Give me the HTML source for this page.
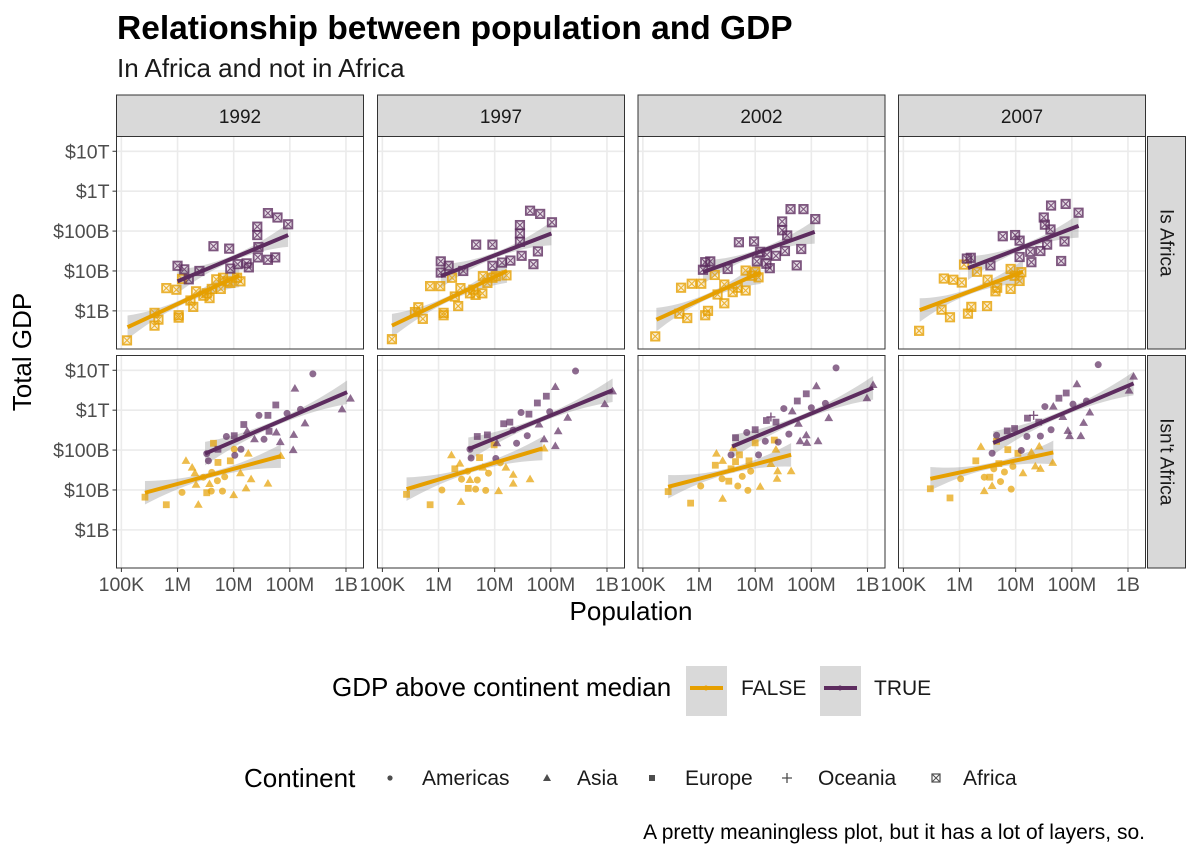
<!DOCTYPE html>
<html><head><meta charset="utf-8">
<style>
body{margin:0;background:#fff;}
svg text{font-family:"Liberation Sans",Arial,sans-serif;}
</style></head>
<body>
<svg id="chart" width="1200" height="857" viewBox="0 0 1200 857" xmlns="http://www.w3.org/2000/svg">
<text x="117" y="39" font-size="33.5" font-weight="bold" fill="#000">Relationship between population and GDP</text>
<text x="117" y="77" font-size="26" fill="#1a1a1a">In Africa and not in Africa</text>
<text x="631" y="620" font-size="26" text-anchor="middle" fill="#000">Population</text>
<text transform="translate(31,352) rotate(-90)" font-size="26" text-anchor="middle" fill="#000">Total GDP</text>
<g id="panels"></g>
<g>
<text x="332" y="696" font-size="26" fill="#000">GDP above continent median</text>
<rect x="686" y="666" width="41" height="50" fill="#d9d9d9"/>
<line x1="690" y1="688" x2="723" y2="688" stroke="#E69F00" stroke-width="4"/>
<circle cx="706" cy="688" r="2.5" fill="#E69F00"/>
<text x="741" y="695" font-size="21" fill="#1a1a1a">FALSE</text>
<rect x="820" y="666" width="41" height="50" fill="#d9d9d9"/>
<line x1="824" y1="688" x2="857" y2="688" stroke="#5D2C5F" stroke-width="4"/>
<circle cx="840" cy="688" r="2.5" fill="#5D2C5F"/>
<text x="874" y="695" font-size="21" fill="#1a1a1a">TRUE</text>
</g>
<g>
<text x="244" y="787" font-size="26" fill="#000">Continent</text>
<circle cx="390" cy="778" r="2.6" fill="#4d4d4d"/>
<text x="422" y="785" font-size="21" fill="#1a1a1a">Americas</text>
<polygon points="543,781 551,781 547,774" fill="#4d4d4d"/>
<text x="577" y="785" font-size="21" fill="#1a1a1a">Asia</text>
<rect x="649" y="775" width="6" height="6" fill="#4d4d4d"/>
<text x="685" y="785" font-size="21" fill="#1a1a1a">Europe</text>
<path d="M782 778 H792 M787 773 V783" stroke="#4d4d4d" stroke-width="1.3"/>
<text x="818" y="785" font-size="21" fill="#1a1a1a">Oceania</text>
<g><rect x="932" y="774" width="8" height="8" fill="none" stroke="#4d4d4d" stroke-width="1.2"/><path d="M932 774 L940 782 M940 774 L932 782" stroke="#4d4d4d" stroke-width="1"/></g>
<text x="963" y="785" font-size="21" fill="#1a1a1a">Africa</text>
</g>
<text x="1145" y="839" font-size="21" text-anchor="end" fill="#000">A pretty meaningless plot, but it has a lot of layers, so.</text>
</svg>
<script>
// ---- data (log10 population, log10 GDP) ----
const years = ["1992","1997","2002","2007"];
const rowLabels = ["Is Africa","Isn't Africa"];
const xTicks = [5,6,7,8,9];
const xTickLabels = ["100K","1M","10M","100M","1B"];
const yTicks = [9,10,11,12,13];
const yTickLabels = ["$1B","$10B","$100B","$1T","$10T"];

const af1992F = [[5.10,8.26],[5.59,8.95],[5.59,8.63],[5.66,8.78],[5.80,9.57],[5.98,9.53],[6.02,8.89],[6.02,8.83],[6.08,9.80],[6.23,9.26],[6.28,9.10],[6.33,9.49],[6.46,9.38],[6.52,9.44],[6.57,9.32],[6.61,9.55],[6.69,9.79],[6.77,9.55],[6.81,9.83],[6.89,9.74],[6.94,9.70],[7.06,9.83],[7.12,9.74]];
const af1992T = [[6.0,10.13],[6.12,10.04],[6.20,9.79],[6.39,10.0],[6.64,10.62],[6.92,10.56],[6.94,10.06],[7.07,10.17],[7.23,10.19],[7.27,10.09],[7.42,11.11],[7.42,10.90],[7.44,10.60],[7.43,10.34],[7.61,11.45],[7.61,10.28],[7.74,10.34],[7.78,11.34],[7.97,11.17]];
const af1997F = [[5.17,8.29],[5.64,9.09],[5.58,8.97],[5.72,8.80],[5.85,9.62],[6.03,9.62],[6.09,8.95],[6.09,8.89],[6.24,9.83],[6.29,9.36],[6.35,9.12],[6.39,9.57],[6.56,9.44],[6.62,9.53],[6.66,9.40],[6.78,9.44],[6.79,9.87],[6.87,9.70],[6.96,9.83],[7.02,9.87],[7.21,9.89]];
const af1997T = [[6.04,10.24],[6.04,9.96],[6.18,10.13],[6.44,10.0],[6.67,10.66],[6.96,10.66],[6.96,10.13],[7.13,10.21],[7.28,10.26],[7.45,11.15],[7.45,10.94],[7.45,10.73],[7.48,10.38],[7.63,11.51],[7.69,10.17],[7.77,10.49],[7.81,11.43],[8.02,11.22]];
const af2002F = [[5.22,8.36],[5.65,8.93],[5.79,8.82],[5.68,9.58],[5.87,9.68],[6.04,9.68],[6.11,8.89],[6.16,9.0],[6.28,9.90],[6.33,9.41],[6.45,9.19],[6.45,9.66],[6.60,9.47],[6.69,9.58],[6.83,9.51],[6.83,10.01],[6.94,9.88],[7.00,9.98],[7.06,9.84]];
const af2002T = [[6.07,10.03],[6.11,10.22],[6.20,10.24],[6.51,10.05],[6.71,10.72],[6.98,10.74],[7.03,10.24],[7.09,10.48],[7.20,10.18],[7.26,10.07],[7.21,10.41],[7.37,10.38],[7.48,11.24],[7.48,11.02],[7.53,10.50],[7.57,10.89],[7.63,11.55],[7.74,10.14],[7.82,10.55],[7.86,11.55],[8.07,11.30]];
const af2007F = [[5.28,8.50],[5.68,9.03],[5.83,8.84],[5.72,9.81],[5.89,9.78],[6.04,9.71],[6.08,10.16],[6.15,8.93],[6.21,9.10],[6.31,9.98],[6.49,9.12],[6.50,9.78],[6.64,9.49],[6.67,9.58],[6.91,9.55],[6.91,10.05],[6.98,9.88],[7.07,9.75],[7.10,9.97]];
const af2007T = [[6.13,10.31],[6.20,10.33],[6.55,10.14],[6.77,10.87],[6.99,10.90],[7.07,10.76],[7.07,10.35],[7.26,10.48],[7.28,10.22],[7.44,10.50],[7.50,11.34],[7.52,11.16],[7.56,10.66],[7.62,11.04],[7.63,11.64],[7.81,10.25],[7.87,10.74],[7.89,11.68],[8.12,11.46]];

// non-Africa: [logPop, logGdp, shape] shape: c=Americas t=Asia s=Europe p=Oceania
const na1992F = [[5.42,9.82,"s"],[5.80,9.63,"s"],[6.08,9.94,"c"],[6.15,10.73,"t"],[6.26,10.56,"t"],[6.31,10.42,"t"],[6.37,9.63,"t"],[6.33,10.13,"t"],[6.46,10.32,"c"],[6.52,9.93,"s"],[6.57,10.15,"t"],[6.60,9.97,"c"],[6.61,10.44,"c"],[6.64,11.17,"s"],[6.72,10.69,"s"],[6.71,10.23,"c"],[6.80,9.97,"c"],[6.84,10.33,"c"],[6.94,10.73,"s"],[7.00,9.87,"t"],[7.01,11.02,"c"],[7.12,10.42,"t"],[7.22,10.04,"t"],[7.26,10.91,"t"],[7.31,10.27,"t"],[7.61,10.16,"t"],[7.84,10.85,"t"]];
const na1992T = [[6.55,10.73,"c"],[6.52,10.91,"c"],[6.72,11.02,"s"],[6.87,11.34,"c"],[7.01,11.36,"s"],[7.02,10.87,"c"],[7.13,11.02,"c"],[7.18,11.64,"s"],[7.24,11.47,"t"],[7.37,11.27,"t"],[7.45,11.87,"c"],[7.54,11.27,"c"],[7.61,11.87,"s"],[7.63,11.47,"s"],[7.75,12.13,"s"],[7.76,11.44,"t"],[7.83,11.20,"t"],[7.95,11.92,"c"],[8.09,12.54,"t"],[8.07,11.38,"t"],[8.19,12.02,"c"],[8.06,11.00,"t"],[8.27,11.67,"t"],[8.41,12.91,"c"],[8.93,12.02,"t"],[9.08,12.29,"t"]];
const na1997F = [[5.43,9.89,"s"],[5.85,9.63,"s"],[6.06,10.0,"c"],[6.23,10.87,"t"],[6.29,10.53,"s"],[6.38,10.66,"t"],[6.40,9.70,"t"],[6.41,10.27,"c"],[6.52,10.47,"c"],[6.53,10.04,"s"],[6.56,10.25,"t"],[6.66,10.02,"c"],[6.69,10.25,"c"],[6.73,10.81,"s"],[6.79,10.56,"t"],[6.84,9.99,"c"],[6.89,10.42,"c"],[6.99,11.13,"s"],[7.07,9.97,"t"],[7.10,10.68,"c"],[7.20,10.56,"t"],[7.33,10.16,"t"],[7.33,10.38,"t"],[7.63,10.27,"t"],[7.88,11.04,"t"]];
const na1997T = [[6.56,11.02,"c"],[6.58,10.80,"c"],[6.69,11.34,"s"],[6.87,11.38,"s"],[7.02,10.79,"c"],[7.04,11.17,"t"],[7.16,11.66,"s"],[7.27,11.70,"s"],[7.33,11.50,"c"],[7.39,11.17,"c"],[7.47,11.94,"c"],[7.58,11.36,"c"],[7.61,11.90,"s"],[7.76,12.18,"s"],[7.79,11.64,"t"],[7.88,11.27,"t"],[7.92,12.35,"s"],[7.98,11.96,"c"],[8.08,12.58,"t"],[8.08,11.10,"t"],[8.13,11.47,"t"],[8.30,11.81,"t"],[8.44,12.98,"c"],[8.96,12.15,"t"],[9.10,12.47,"t"]];
const na2002F = [[5.45,9.96,"s"],[5.85,9.67,"s"],[6.03,10.10,"c"],[6.31,10.91,"t"],[6.29,10.62,"s"],[6.42,9.78,"t"],[6.42,10.73,"t"],[6.41,10.28,"c"],[6.53,10.22,"s"],[6.57,10.53,"s"],[6.61,11.05,"t"],[6.65,10.71,"s"],[6.69,10.10,"c"],[6.72,10.88,"s"],[6.77,10.34,"c"],[6.87,9.99,"c"],[6.89,10.73,"s"],[6.92,10.47,"c"],[7.0,11.18,"s"],[7.09,10.08,"t"],[7.28,10.65,"t"],[7.34,11.25,"s"],[7.37,11.01,"t"],[7.40,10.47,"t"],[7.39,10.28,"t"],[7.64,10.47,"t"]];
const na2002T = [[6.57,10.88,"c"],[6.65,11.31,"s"],[6.85,11.44,"c"],[7.00,11.51,"s"],[7.06,10.88,"c"],[7.18,11.22,"c"],[7.20,11.74,"s"],[7.28,11.83,"p"],[7.37,11.70,"s"],[7.41,11.20,"c"],[7.51,12.04,"c"],[7.60,11.40,"c"],[7.66,11.97,"t"],[7.75,12.23,"s"],[7.77,11.66,"t"],[7.80,11.22,"t"],[7.91,12.41,"s"],[7.91,11.37,"t"],[7.92,11.18,"t"],[8.00,12.06,"c"],[8.09,12.60,"t"],[8.12,11.22,"t"],[8.25,12.17,"c"],[8.31,11.80,"t"],[8.44,13.06,"c"],[8.99,12.30,"t"],[9.10,12.63,"t"]];
const na2007F = [[5.48,10.03,"s"],[5.83,9.80,"s"],[6.02,10.28,"c"],[6.38,11.08,"t"],[6.29,10.73,"s"],[6.44,9.97,"t"],[6.44,10.32,"c"],[6.54,10.32,"s"],[6.58,10.10,"t"],[6.61,10.53,"c"],[6.66,11.22,"s"],[6.70,10.66,"s"],[6.73,10.21,"c"],[6.80,10.45,"c"],[6.86,11.01,"s"],[6.92,10.02,"c"],[6.95,10.59,"c"],[7.04,10.92,"s"],[7.13,10.42,"t"],[7.28,10.94,"t"],[7.35,10.59,"t"],[7.42,11.09,"t"],[7.44,10.53,"t"],[7.66,10.68,"t"]];
const na2007T = [[6.58,10.92,"c"],[6.66,11.37,"c"],[6.85,11.48,"s"],[6.98,11.54,"s"],[7.10,10.99,"c"],[7.20,11.34,"c"],[7.21,11.80,"s"],[7.32,11.87,"p"],[7.41,11.70,"s"],[7.44,11.35,"c"],[7.52,12.09,"c"],[7.63,11.51,"c"],[7.67,12.09,"t"],[7.77,12.30,"s"],[7.84,11.83,"t"],[7.90,12.43,"s"],[7.93,11.48,"t"],[7.96,11.35,"t"],[8.02,12.15,"c"],[8.09,12.65,"t"],[8.16,11.35,"t"],[8.21,11.68,"t"],[8.26,12.23,"c"],[8.32,11.94,"t"],[8.47,13.14,"c"],[9.02,12.49,"t"],[9.10,12.84,"t"]];

// fitted lines: [[x1,y1],[x2,y2]]
const fitAf1992F = [[5.11,8.59],[7.10,9.89]], fitAf1992T = [[6.0,9.74],[7.97,10.90]];
const fitAf1997F = [[5.17,8.63],[7.22,10.0]], fitAf1997T = [[6.04,9.87],[8.01,10.94]];
const fitAf2002F = [[5.24,8.78],[7.10,9.97]], fitAf2002T = [[6.07,9.97],[8.06,10.98]];
const fitAf2007F = [[5.29,9.02],[7.13,9.98]], fitAf2007T = [[6.15,10.07],[8.12,11.13]];
const fitNa1992F = [[5.42,9.93],[7.84,10.85]], fitNa1992T = [[6.49,10.91],[9.02,12.45]];
const fitNa1997F = [[5.43,10.02],[7.85,11.04]], fitNa1997T = [[6.53,11.02],[9.10,12.50]];
const fitNa2002F = [[5.45,10.08],[7.64,10.88]], fitNa2002T = [[6.59,11.09],[9.10,12.56]];
const fitNa2007F = [[5.48,10.28],[7.67,10.94]], fitNa2007T = [[6.60,11.18],[9.10,12.67]];

const panelData = [
 [[af1992F,af1992T,fitAf1992F,fitAf1992T],[af1997F,af1997T,fitAf1997F,fitAf1997T],[af2002F,af2002T,fitAf2002F,fitAf2002T],[af2007F,af2007T,fitAf2007F,fitAf2007T]],
 [[na1992F,na1992T,fitNa1992F,fitNa1992T],[na1997F,na1997T,fitNa1997F,fitNa1997T],[na2002F,na2002T,fitNa2002F,fitNa2002T],[na2007F,na2007T,fitNa2007F,fitNa2007T]]
];

// ---- layout ----
const NS = "http://www.w3.org/2000/svg";
const colX = [116.5, 377.5, 638, 898.5], PW = 247;
const rowY = [136.5, 355.5], PH = 212.5;
const XMIN = 4.913, XSCALE = 56.15, YMAX = 13.37, YSCALE = 39.9;
const ORANGE = "#E69F00", PURPLE = "#5D2C5F";
function sx(c, v){ return colX[c] + (v - XMIN) * XSCALE; }
function sy(r, v){ return rowY[r] + (YMAX - v) * YSCALE; }
function mk(tag, attrs, parent){ const e = document.createElementNS(NS, tag); for (const k in attrs) e.setAttribute(k, attrs[k]); parent.appendChild(e); return e; }

const root = document.getElementById("panels");

years.forEach((yr, c) => {
  const s = mk("rect", {x: colX[c], y: 95, width: PW, height: rowY[0]-95, fill: "#d9d9d9", stroke: "#333", "stroke-width": 1}, root);
  
  
  const t = mk("text", {x: colX[c] + PW/2, y: 123, "text-anchor": "middle", "font-size": 19, fill: "#1a1a1a"}, root);
  t.textContent = yr;
  
  
});
rowLabels.forEach((lab, r) => {
  const s = mk("rect", {x: colX[3] + PW + 2, y: rowY[r], width: 38, height: PH, fill: "#d9d9d9", stroke: "#333", "stroke-width": 1}, root);
  
  
  const cx = colX[3] + PW + 21, cy = rowY[r] + PH/2;
  const t = mk("text", {transform: `translate(${cx},${cy}) rotate(90)`, "text-anchor": "middle", "font-size": 19, fill: "#1a1a1a", dy: 6}, root);
  t.textContent = lab;
  
  
});

function drawPoint(g, c, r, p, col, shape){
  const x = sx(c, p[0]), y = sy(r, p[1]);
  let e;
  if (shape === "a") {
    e = mk("g", {opacity: 0.8}, g);
    mk("rect", {x: x-4.2, y: y-4.2, width: 8.4, height: 8.4, fill: col, "fill-opacity": 0.2, stroke: col, "stroke-width": 1.8}, e);
    mk("path", {d: `M${x-4} ${y-4} L${x+4} ${y+4} M${x+4} ${y-4} L${x-4} ${y+4}`, stroke: col, "stroke-width": 1.1}, e);
  } else if (shape === "c") {
    e = mk("circle", {cx: x, cy: y, r: 3.5, fill: col, opacity: 0.7}, g);
  } else if (shape === "t") {
    e = mk("polygon", {points: `${x-4.4},${y+3} ${x+4.4},${y+3} ${x},${y-4.6}`, fill: col, opacity: 0.7}, g);
  } else if (shape === "s") {
    e = mk("rect", {x: x-3.4, y: y-3.4, width: 6.8, height: 6.8, fill: col, opacity: 0.7}, g);
  } else {
    e = mk("path", {d: `M${x-4.5} ${y} H${x+4.5} M${x} ${y-4.5} V${y+4.5}`, stroke: col, "stroke-width": 1.4, opacity: 0.8}, g);
  }
  
  
}

function drawFit(g, c, r, f, col, name){
  const [a, b] = f, n = 20, up = [], lo = [];
  for (let i = 0; i <= n; i++) {
    const t = i / n, xv = a[0] + (b[0]-a[0])*t, yv = a[1] + (b[1]-a[1])*t;
    const hw = 0.07 + 0.9 * (t-0.5)*(t-0.5);
    up.push(`${sx(c,xv)},${sy(r,yv+hw)}`); lo.unshift(`${sx(c,xv)},${sy(r,yv-hw)}`);
  }
  const band = mk("polygon", {points: up.concat(lo).join(" "), fill: "#999", opacity: 0.4}, g);
  
  
}

for (let r = 0; r < 2; r++) {
  for (let c = 0; c < 4; c++) {
    const g = mk("g", {}, root);
    
    
    mk("rect", {x: colX[c], y: rowY[r], width: PW, height: PH, fill: "#fff"}, g);
    const clipId = `clip${r}${c}`;
    const cp = mk("clipPath", {id: clipId}, g);
    mk("rect", {x: colX[c], y: rowY[r], width: PW, height: PH}, cp);
    xTicks.forEach(v => {
      const l = mk("line", {x1: sx(c,v), x2: sx(c,v), y1: rowY[r], y2: rowY[r]+PH, stroke: "#ebebeb", "stroke-width": 1.6}, g);
      
      
    });
    yTicks.forEach(v => {
      const l = mk("line", {x1: colX[c], x2: colX[c]+PW, y1: sy(r,v), y2: sy(r,v), stroke: "#ebebeb", "stroke-width": 1.6}, g);
      
      
    });
    const [dF, dT, fF, fT] = panelData[r][c];
    const inner = mk("g", {"clip-path": `url(#${clipId})`}, g);
    drawFit(inner, c, r, fF, ORANGE, 'false');
    drawFit(inner, c, r, fT, PURPLE, 'true');
    dF.forEach(p => drawPoint(inner, c, r, p, ORANGE, r === 0 ? "a" : p[2]));
    dT.forEach(p => drawPoint(inner, c, r, p, PURPLE, r === 0 ? "a" : p[2]));
    [[fF, ORANGE, 'false'],[fT, PURPLE, 'true']].forEach(([f, col, nm]) => {
      const ln = mk("line", {x1: sx(c,f[0][0]), y1: sy(r,f[0][1]), x2: sx(c,f[1][0]), y2: sy(r,f[1][1]), stroke: col, "stroke-width": 4}, inner);
      
      
    });
    const border = mk("rect", {x: colX[c], y: rowY[r], width: PW, height: PH, fill: "none", stroke: "#333", "stroke-width": 1}, g);
    
    
  }
  yTicks.forEach((v, i) => {
    const tk = mk("line", {x1: colX[0]-4, x2: colX[0], y1: sy(r,v), y2: sy(r,v), stroke: "#333", "stroke-width": 1}, root);
    
    
    const t = mk("text", {x: colX[0]-7, y: sy(r,v)+7, "text-anchor": "end", "font-size": 19.5, fill: "#4d4d4d"}, root);
    t.textContent = yTickLabels[i];
    
    
  });
}
for (let c = 0; c < 4; c++) {
  xTicks.forEach((v, i) => {
    const yb = rowY[1] + PH;
    const tk = mk("line", {x1: sx(c,v), x2: sx(c,v), y1: yb, y2: yb+4, stroke: "#333", "stroke-width": 1}, root);
    
    
    const t = mk("text", {x: sx(c,v), y: yb+23, "text-anchor": "middle", "font-size": 19.5, fill: "#4d4d4d"}, root);
    t.textContent = xTickLabels[i];
    
    
  });
}
</script>
</body></html>
